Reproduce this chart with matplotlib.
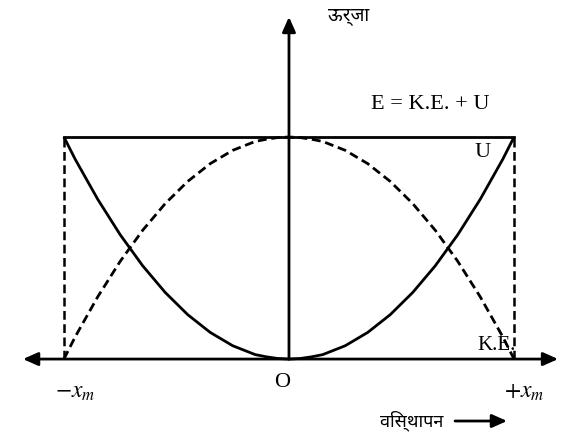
import matplotlib.pyplot as plt

# displacement in units of x_m, energy in units of E
x = [-1.0, -0.95, -0.9, -0.85, -0.8, -0.75, -0.7, -0.65, -0.6, -0.55, -0.5,
     -0.45, -0.4, -0.35, -0.3, -0.25, -0.2, -0.15, -0.1, -0.05, 0.0,
     0.05, 0.1, 0.15, 0.2, 0.25, 0.3, 0.35, 0.4, 0.45, 0.5,
     0.55, 0.6, 0.65, 0.7, 0.75, 0.8, 0.85, 0.9, 0.95, 1.0]
U = [1.0, 0.90, 0.81, 0.72, 0.64, 0.56, 0.49, 0.42, 0.36, 0.30, 0.25,
     0.20, 0.16, 0.12, 0.09, 0.06, 0.04, 0.02, 0.01, 0.0025, 0.0,
     0.0025, 0.01, 0.02, 0.04, 0.06, 0.09, 0.12, 0.16, 0.20, 0.25,
     0.30, 0.36, 0.42, 0.49, 0.56, 0.64, 0.72, 0.81, 0.90, 1.0]
KE = [0.0, 0.10, 0.19, 0.28, 0.36, 0.44, 0.51, 0.58, 0.64, 0.70, 0.75,
      0.80, 0.84, 0.88, 0.91, 0.94, 0.96, 0.98, 0.99, 0.9975, 1.0,
      0.9975, 0.99, 0.98, 0.96, 0.94, 0.91, 0.88, 0.84, 0.80, 0.75,
      0.70, 0.64, 0.58, 0.51, 0.44, 0.36, 0.28, 0.19, 0.10, 0.0]
E_total = 1.0
x_m = 1.0

plt.rcParams['font.family'] = ['Liberation Serif', 'Noto Sans', 'DejaVu Sans']
plt.rcParams['mathtext.fontset'] = 'stix'

fig = plt.figure(figsize=(5.64, 4.33), dpi=100)
ax = fig.add_axes([0, 0, 1, 1])
ax.set_xlim(-1.284, 1.222)
ax.set_ylim(-0.333, 1.617)
ax.axis('off')

lw = 2.0
ax.plot(x, U, color='black', lw=lw, solid_capstyle='butt')
ax.plot(x, KE, color='black', lw=lw, ls=(0, (3.2, 1.7)))
ax.plot([-x_m, x_m], [E_total, E_total], color='black', lw=lw)
ax.plot([-x_m, -x_m], [0, E_total], color='black', lw=1.8, ls=(0, (3.5, 1.8)))
ax.plot([x_m, x_m], [0, E_total], color='black', lw=1.8, ls=(0, (3.5, 1.8)))

# axes with arrows
arr = dict(arrowstyle='-|>,head_length=0.9,head_width=0.4', color='black', lw=2.0,
           shrinkA=0, shrinkB=0)
ax.annotate('', xy=(1.196, 0), xytext=(0, 0), arrowprops=arr)
ax.annotate('', xy=(-1.182, 0), xytext=(0, 0), arrowprops=arr)
ax.annotate('', xy=(0, 1.541), xytext=(0, 0), arrowprops=arr)

ax.text(0.267, 1.541, 'ऊर्जा', fontsize=13.5, ha='center', va='center')
ax.text(0.627, 1.146, 'E = K.E. + U', fontsize=16, ha='center', va='center')
ax.text(0.858, 0.932, 'U', fontsize=16, ha='center', va='center')
ax.text(0.924, 0.063, 'K.E.', fontsize=15, ha='center', va='center')
ax.text(-0.031, -0.104, 'O', fontsize=16, ha='center', va='center')
ax.text(-0.951, -0.176, r'$-x_m$', fontsize=17, ha='center', va='baseline')
ax.text(1.044, -0.176, r'$+x_m$', fontsize=17, ha='center', va='baseline')
ax.text(0.684, -0.279, 'विस्थापन', fontsize=13, ha='right', va='center')
ax.annotate('', xy=(0.969, -0.279), xytext=(0.738, -0.279), arrowprops=arr)

fig.savefig('out.png', dpi=100)
